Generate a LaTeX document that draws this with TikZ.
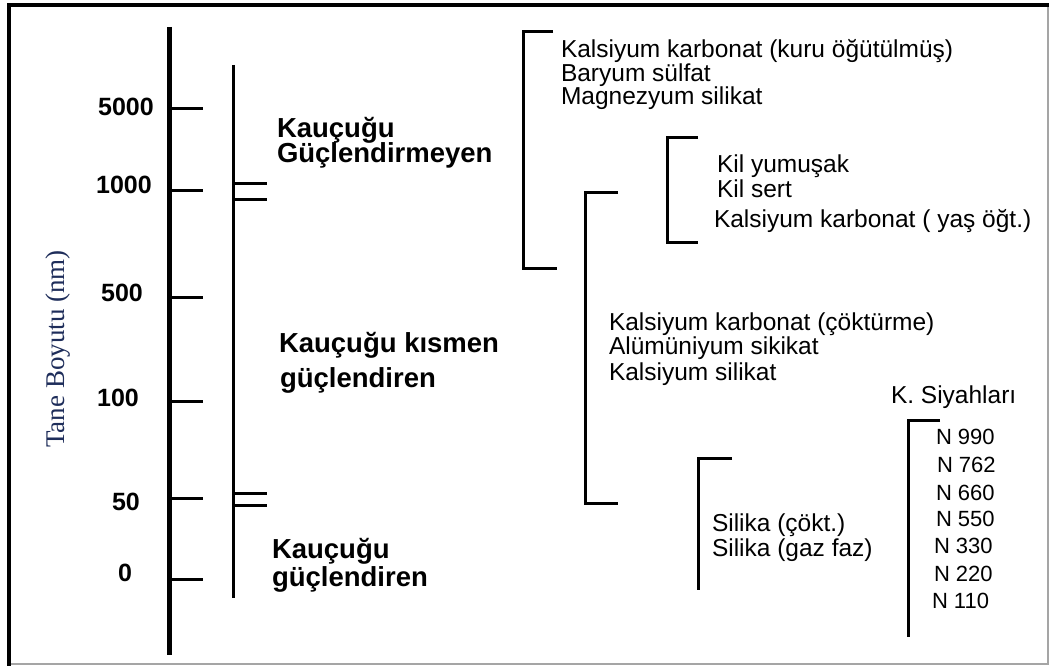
\documentclass[tikz,border=0pt]{standalone}
\usepackage{fontspec}
\setmainfont{Liberation Sans}
\newfontfamily\titleserif{Liberation Serif}
\definecolor{titleblue}{RGB}{30,45,90}
\definecolor{framegray}{RGB}{165,165,165}
\begin{document}
\begin{tikzpicture}[x=1pt,y=-1pt,
  every node/.style={inner sep=0pt, outer sep=0pt},
  reg/.style={anchor=west, font=\fontsize{24.5}{24.5}\selectfont, text height=17.5pt, text depth=0pt},
  nlab/.style={anchor=west, font=\fontsize{22}{22}\selectfont, text height=15.8pt, text depth=0pt},
  boldlab/.style={anchor=west, font=\bfseries\fontsize{27.5}{27.5}\selectfont, text height=19.7pt, text depth=0pt},
  num/.style={anchor=center, font=\bfseries\fontsize{25}{25}\selectfont, text height=17.9pt, text depth=0pt},
  axis/.style={line width=4.5pt},
  tick/.style={line width=3pt},
  bracket/.style={line width=3pt, line join=miter},
]
\useasboundingbox (0,0) rectangle (1052,666);
\fill[white] (0,0) rectangle (1052,666);
% frame
\draw[framegray, line width=1.5pt] (9,664) -- (1048,664) -- (1048,5);
\draw[line width=4pt, line join=miter] (9,666) -- (9,5) -- (1049,5);

% axis title
\node[rotate=90, font=\titleserif\fontsize{27}{27}\selectfont, text=titleblue, text height=18pt, text depth=0pt] (title) at (55,349) {Tane Boyutu (nm)};

% main axis
\coordinate (axT) at (169.5,27);
\coordinate (axB) at (169.5,655);
\draw[axis] (axT) -- (axB);
\foreach \y/\ly/\lx/\t [count=\i] in {109/107/126/5000, 190/185/124/1000, 297/293/122/500, 401/398/118/100, 498/502/126/50, 579/573/125/0}{
  \coordinate (tk\i) at (170,\y);
  \draw[tick] (tk\i) -- ++(33,0);
  \node[num] (n\i) at (\lx,\ly) {\t};
}

% second line with double ticks
\coordinate (sT) at (233,65);
\coordinate (sB) at (233,598);
\draw[tick] (sT) -- (sB);
\foreach \y in {183,199,493,505}{
  \draw[tick] (233,\y) -- (267,\y);
}

% category labels
\node[boldlab] (c1a) at (277,128) {Kauçuğu};
\node[boldlab] (c1b) at (277,153) {Güçlendirmeyen};
\node[boldlab] (c2a) at (279,343) {Kauçuğu kısmen};
\node[boldlab] (c2b) at (280,378) {güçlendiren};
\node[boldlab] (c3a) at (272,549) {Kauçuğu};
\node[boldlab] (c3b) at (272,577) {güçlendiren};

% brackets
\draw[bracket] (553,32) -- (523,32) -- (523,268) -- (557,268);
\draw[bracket] (698,138) -- (667,138) -- (667,242) -- (698,242);
\draw[bracket] (618,192) -- (585,192) -- (585,503) -- (618,503);
\draw[bracket] (732,458) -- (698,458) -- (698,590);
\draw[bracket] (940,420) -- (908,420) -- (908,637);

% filler lists
\node[reg] (f1) at (561,49) {Kalsiyum karbonat (kuru öğütülmüş)};
\node[reg] (f2) at (561,72.5) {Baryum sülfat};
\node[reg] (f3) at (561,96) {Magnezyum silikat};

\node[reg] (k1) at (717,164) {Kil yumuşak};
\node[reg] (k2) at (717,189) {Kil sert};
\node[reg] (k3) at (714,219) {Kalsiyum karbonat ( yaş öğt.)};

\node[reg] (m1) at (609,322) {Kalsiyum karbonat (çöktürme)};
\node[reg] (m2) at (609,346) {Alümüniyum sikikat};
\node[reg] (m3) at (609,372) {Kalsiyum silikat};

\node[reg] (s1) at (712,523) {Silika (çökt.)};
\node[reg] (s2) at (712,548) {Silika (gaz faz)};

\node[reg] (ks) at (891,395) {K. Siyahları};
\node[nlab] (b1) at (936,437) {N 990};
\node[nlab] (b2) at (937,465) {N 762};
\node[nlab] (b3) at (936,493) {N 660};
\node[nlab] (b4) at (936,519) {N 550};
\node[nlab] (b5) at (934,546) {N 330};
\node[nlab] (b6) at (934,574) {N 220};
\node[nlab] (b7) at (932,601) {N 110};
\end{tikzpicture}
\end{document}
